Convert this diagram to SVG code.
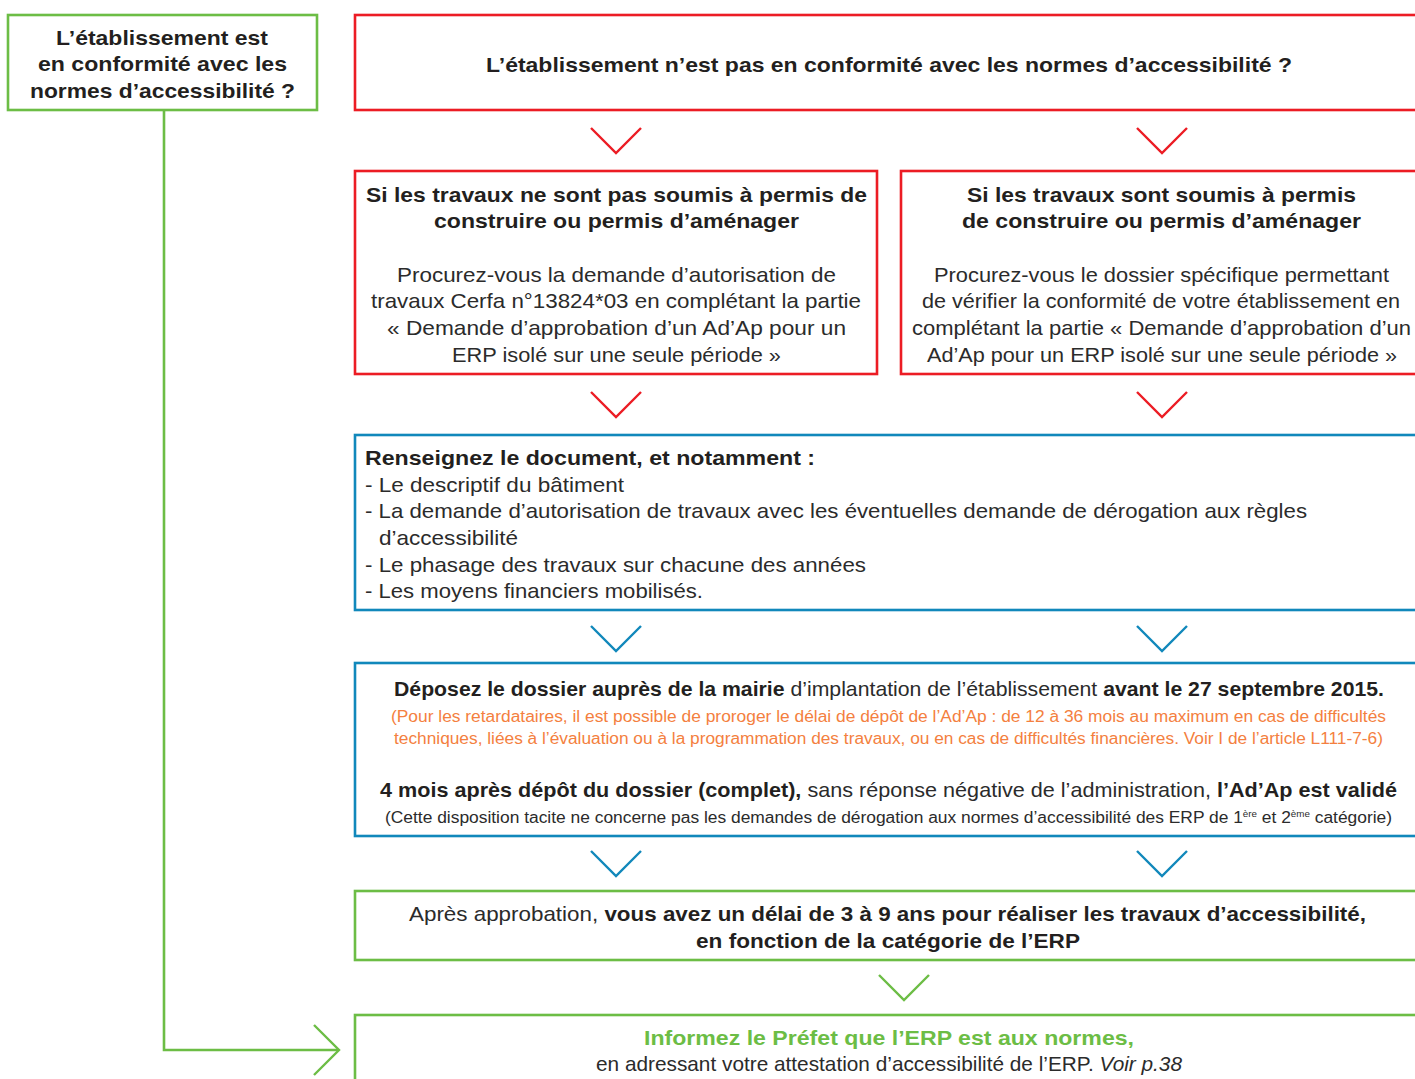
<svg xmlns="http://www.w3.org/2000/svg" width="1415" height="1079" viewBox="0 0 1415 1079">
<style>
text{font-family:"Liberation Sans",Arial,sans-serif;fill:#231f20;font-size:21px}
.b{font-weight:bold}
.r{fill:#2b2b2b}
.o{fill:#f47f40;font-size:16px}
.s{font-size:16px;fill:#2b2b2b}
.g{fill:#6cbd45;font-weight:bold}
.boxR{fill:#fff;stroke:#ec1c24;stroke-width:2.6}
.boxG{fill:#fff;stroke:#6cbd45;stroke-width:2.6}
.boxB{fill:#fff;stroke:#1188bb;stroke-width:2.6}
.chR{fill:none;stroke:#ec1c24;stroke-width:2.4}
.chB{fill:none;stroke:#1188bb;stroke-width:2.4}
.chG{fill:none;stroke:#6cbd45;stroke-width:2.4}
</style>
<rect width="1415" height="1079" fill="#fff"/>
<g id="connectors">
<polyline points="164,111 164,1050 338,1050" fill="none" stroke="#6cbd45" stroke-width="2.6"/>
<polyline points="314,1025 339,1050 314,1075" class="chG"/>
<polyline points="591,128 616,153 641,128" class="chR"/>
<polyline points="1137,128 1162,153 1187,128" class="chR"/>
<polyline points="591,392 616,417 641,392" class="chR"/>
<polyline points="1137,392 1162,417 1187,392" class="chR"/>
<polyline points="591,626 616,651 641,626" class="chB"/>
<polyline points="1137,626 1162,651 1187,626" class="chB"/>
<polyline points="591,851 616,876 641,851" class="chB"/>
<polyline points="1137,851 1162,876 1187,851" class="chB"/>
<polyline points="879,975 904,1000 929,975" class="chG"/>
</g>
<g id="n_conforme">
<rect x="8" y="15" width="309" height="95" class="boxG"/>
<text class="b" x="56" y="45" textLength="212" lengthAdjust="spacingAndGlyphs">L’établissement est</text>
<text class="b" x="38" y="71" textLength="249" lengthAdjust="spacingAndGlyphs">en conformité avec les</text>
<text class="b" x="30" y="98" textLength="265" lengthAdjust="spacingAndGlyphs">normes d’accessibilité ?</text>
</g>
<g id="n_non_conforme">
<rect x="355" y="15" width="1070" height="95" class="boxR"/>
<text class="b" x="486" y="72" textLength="806" lengthAdjust="spacingAndGlyphs">L’établissement n’est pas en conformité avec les normes d’accessibilité ?</text>
</g>
<g id="n_sans_permis">
<rect x="355" y="171" width="522" height="203" class="boxR"/>
<text class="b" x="366" y="202" textLength="501" lengthAdjust="spacingAndGlyphs">Si les travaux ne sont pas soumis à permis de</text>
<text class="b" x="434" y="228" textLength="365" lengthAdjust="spacingAndGlyphs">construire ou permis d’aménager</text>
<text class="r" x="397" y="282" textLength="439" lengthAdjust="spacingAndGlyphs">Procurez-vous la demande d’autorisation de</text>
<text class="r" x="371" y="308" textLength="490" lengthAdjust="spacingAndGlyphs">travaux Cerfa n°13824*03 en complétant la partie</text>
<text class="r" x="387" y="335" textLength="459" lengthAdjust="spacingAndGlyphs">« Demande d’approbation d’un Ad’Ap pour un</text>
<text class="r" x="452" y="362" textLength="329" lengthAdjust="spacingAndGlyphs">ERP isolé sur une seule période »</text>
</g>
<g id="n_avec_permis">
<rect x="901" y="171" width="524" height="203" class="boxR"/>
<text class="b" x="967" y="202" textLength="389" lengthAdjust="spacingAndGlyphs">Si les travaux sont soumis à permis</text>
<text class="b" x="962" y="228" textLength="399" lengthAdjust="spacingAndGlyphs">de construire ou permis d’aménager</text>
<text class="r" x="934" y="282" textLength="455" lengthAdjust="spacingAndGlyphs">Procurez-vous le dossier spécifique permettant</text>
<text class="r" x="922" y="308" textLength="478" lengthAdjust="spacingAndGlyphs">de vérifier la conformité de votre établissement en</text>
<text class="r" x="912" y="335" textLength="499" lengthAdjust="spacingAndGlyphs">complétant la partie « Demande d’approbation d’un</text>
<text class="r" x="927" y="362" textLength="470" lengthAdjust="spacingAndGlyphs">Ad’Ap pour un ERP isolé sur une seule période »</text>
</g>
<g id="n_renseignez">
<rect x="355" y="435" width="1070" height="175" class="boxB"/>
<text class="b" x="365" y="465" textLength="450" lengthAdjust="spacingAndGlyphs">Renseignez le document, et notamment :</text>
<text class="r" x="365" y="492" textLength="259" lengthAdjust="spacingAndGlyphs">- Le descriptif du bâtiment</text>
<text class="r" x="365" y="518" textLength="942" lengthAdjust="spacingAndGlyphs">- La demande d’autorisation de travaux avec les éventuelles demande de dérogation aux règles</text>
<text class="r" x="379" y="545" textLength="139" lengthAdjust="spacingAndGlyphs">d’accessibilité</text>
<text class="r" x="365" y="572" textLength="501" lengthAdjust="spacingAndGlyphs">- Le phasage des travaux sur chacune des années</text>
<text class="r" x="365" y="598" textLength="338" lengthAdjust="spacingAndGlyphs">- Les moyens financiers mobilisés.</text>
</g>
<g id="n_deposez">
<rect x="355" y="663" width="1070" height="173" class="boxB"/>
<text x="394" y="696" textLength="990" lengthAdjust="spacingAndGlyphs"><tspan class="b">Déposez le dossier auprès de la mairie</tspan><tspan class="r"> d’implantation de l’établissement </tspan><tspan class="b">avant le 27 septembre 2015.</tspan></text>
<text class="o" x="391" y="722" textLength="995" lengthAdjust="spacingAndGlyphs">(Pour les retardataires, il est possible de proroger le délai de dépôt de l’Ad’Ap : de 12 à 36 mois au maximum en cas de difficultés</text>
<text class="o" x="394" y="744" textLength="989" lengthAdjust="spacingAndGlyphs">techniques, liées à l’évaluation ou à la programmation des travaux, ou en cas de difficultés financières. Voir I de l’article L111-7-6)</text>
<text x="380" y="797" textLength="1017" lengthAdjust="spacingAndGlyphs"><tspan class="b">4 mois après dépôt du dossier (complet),</tspan><tspan class="r"> sans réponse négative de l’administration, </tspan><tspan class="b">l’Ad’Ap est validé</tspan></text>
<text class="s" x="385" y="823" textLength="1007" lengthAdjust="spacingAndGlyphs">(Cette disposition tacite ne concerne pas les demandes de dérogation aux normes d’accessibilité des ERP de 1<tspan font-size="9" dy="-6">ère</tspan><tspan dy="6"> et 2</tspan><tspan font-size="9" dy="-6">ème</tspan><tspan dy="6"> catégorie)</tspan></text>
</g>
<g id="n_approbation">
<rect x="355" y="891" width="1070" height="69" class="boxG"/>
<text x="409" y="921" textLength="957" lengthAdjust="spacingAndGlyphs"><tspan class="r">Après approbation, </tspan><tspan class="b">vous avez un délai de 3 à 9 ans pour réaliser les travaux d’accessibilité,</tspan></text>
<text class="b" x="696" y="948" textLength="384" lengthAdjust="spacingAndGlyphs">en fonction de la catégorie de l’ERP</text>
</g>
<g id="n_prefet">
<rect x="355" y="1015" width="1070" height="80" class="boxG"/>
<text class="g" x="644" y="1045" textLength="490" lengthAdjust="spacingAndGlyphs">Informez le Préfet que l’ERP est aux normes,</text>
<text class="r" x="596" y="1071" textLength="586" lengthAdjust="spacingAndGlyphs">en adressant votre attestation d’accessibilité de l’ERP. <tspan font-style="italic">Voir p.38</tspan></text>
</g>
</svg>
